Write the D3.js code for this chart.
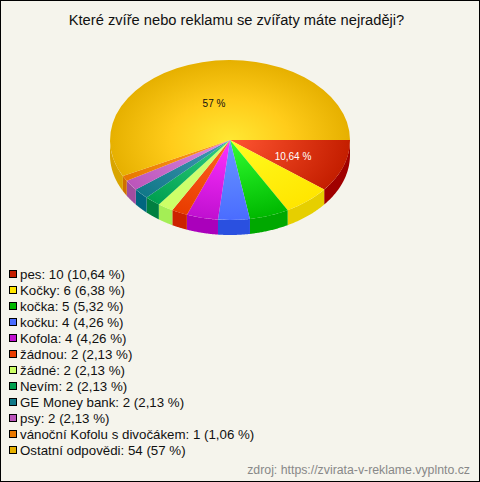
<!DOCTYPE html>
<html><head><meta charset="utf-8">
<script src="https://cdnjs.cloudflare.com/ajax/libs/d3/7.8.5/d3.min.js"></script>
<style>html,body{margin:0;padding:0;background:#f5f4ec}svg{display:block}text{font-family:"Liberation Sans",Arial,sans-serif}</style>
</head><body><svg id="c" width="480" height="482"></svg>
<script>
const title = "Které zvíře nebo reklamu se zvířaty máte nejraději?";
const source = "zdroj: https://zvirata-v-reklame.vyplnto.cz";
const categories = ["pes","Kočky","kočka","kočku","Kofola","žádnou","žádné","Nevím","GE Money bank","psy","vánoční Kofolu s divočákem","Ostatní odpovědi"];
const values = [10,6,5,4,4,2,2,2,2,2,1,54];
const percents = ["10,64 %","6,38 %","5,32 %","4,26 %","4,26 %","2,13 %","2,13 %","2,13 %","2,13 %","2,13 %","1,06 %","57 %"];
const baseColors = ["#c41e00","#ffe600","#00b800","#4a6cff","#c010d0","#e83c00","#ccff66","#00a050","#107888","#bb55bb","#e87800","#e6b000"];
const lightColors = ["#ff5533","#ffff22","#33ff33","#6699ff","#ff33ff","#ff6622","#ccff77","#33cc88","#4499bb","#e090e0","#ff9922","#ffe833"];
const midColors = ["#e23a18","#fff010","#18dc18","#5a82ff","#e020e8","#f45010","#ccff70","#18b868","#2c88a0","#cc70cc","#f48a10","#ffcc1a"];
const sideColors = ["#a00000","#e6cf00","#00a800","#2a50e0","#aa00bb","#cc2200","#a4ee55","#008040","#006680","#a04ca0","#d07000","#d9a500"];
const sliceLabels = [{i:0,color:"#fff",dx:63,dy:16},{i:11,color:"#111",dx:-16,dy:-37}];

const svg = d3.select("#c");
const W=480,H=482,cx=230,cy=140,rx=120,ry=80,depth=15;
svg.append("rect").attr("x",.5).attr("y",.5).attr("width",W-1).attr("height",H-1).attr("fill","#f5f4ec").attr("stroke","#000");
svg.append("text").attr("x",236.5).attr("y",25).attr("text-anchor","middle").attr("font-size",14.7).attr("fill","#111").text(title);

const pie = d3.pie().sort(null).startAngle(Math.PI/2).endAngle(Math.PI/2+2*Math.PI);
const arcs = pie(values);
const defs = svg.append("defs");
baseColors.forEach((c,i)=>{
  const g = defs.append("radialGradient").attr("id","g"+i).attr("gradientUnits","userSpaceOnUse")
    .attr("cx",0).attr("cy",0).attr("r",1);
  g.append("stop").attr("offset",0).attr("stop-color",lightColors[i]);
  g.append("stop").attr("offset",.5).attr("stop-color",midColors[i]);
  g.append("stop").attr("offset",1).attr("stop-color",c);
});
const px = a=>cx+rx*Math.sin(a), py = a=>cy-ry*Math.cos(a);
const wall = svg.append("g");
arcs.forEach((d,i)=>{
  const a0=Math.max(d.startAngle,Math.PI/2), a1=Math.min(d.endAngle,1.5*Math.PI);
  if(a1<=a0) return;
  const angles=d3.range(0,41).map(k=>a0+(a1-a0)*k/40);
  const pts=angles.map(a=>[px(a),py(a)]).concat(angles.slice().reverse().map(a=>[px(a),py(a)+depth]));
  wall.append("path").attr("d",d3.line()(pts)+"Z").attr("fill",sideColors[i]);
});
const arc=d3.arc().innerRadius(0).outerRadius(1);
svg.append("g").attr("transform",`translate(${cx},${cy}) scale(${rx},${ry})`)
  .selectAll("path").data(arcs).join("path").attr("d",arc).attr("fill",(d,i)=>`url(#g${i})`);
sliceLabels.forEach(l=>{
  svg.append("text").attr("x",cx+l.dx).attr("y",cy+l.dy+3.5).attr("text-anchor","middle").attr("font-size",10)
    .attr("fill",l.color).text(percents[l.i]);
});
const leg=svg.append("g").selectAll("g").data(categories).join("g").attr("transform",(d,i)=>`translate(0,${274+16*i})`);
leg.append("rect").attr("x",9.5).attr("y",-3.5).attr("width",7).attr("height",7).attr("fill",(d,i)=>baseColors[i]).attr("stroke","#000");
leg.append("text").attr("x",20).attr("y",4.5).attr("font-size",13.3).attr("fill","#111").text((d,i)=>`${d}: ${values[i]} (${percents[i]})`);
svg.append("text").attr("x",470).attr("y",474).attr("text-anchor","end").attr("font-size",12.3).attr("fill","#888").text(source);
</script></body></html>
